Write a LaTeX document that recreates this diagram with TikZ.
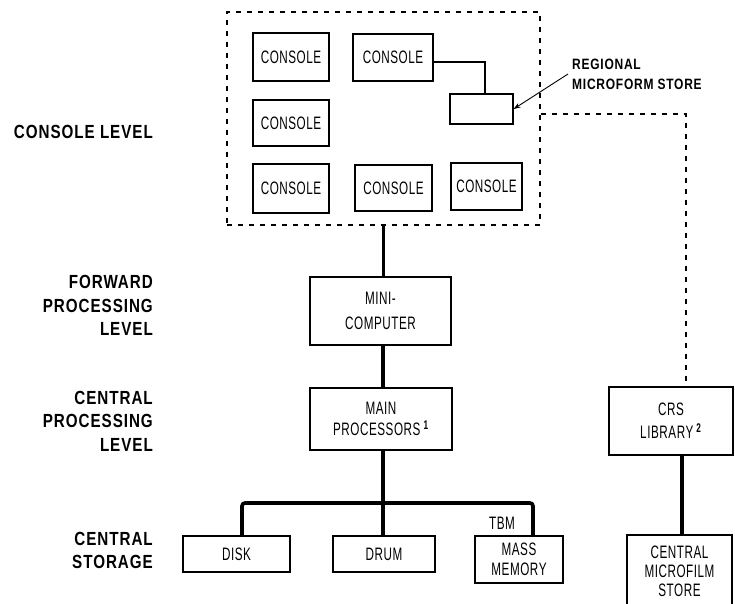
\documentclass[tikz,border=0pt]{standalone}
\usepackage{fontspec}
\setmainfont{Liberation Sans}[FakeStretch=0.65, LetterSpace=3]
\newfontfamily\lvlfont{Liberation Sans Bold}[FakeStretch=0.8, LetterSpace=5]
\usepackage{tikz}
\usetikzlibrary{arrows.meta}
\usetikzlibrary{positioning}

\tikzset{
  unit/.style={draw=black, line width=1.2pt, inner sep=0pt, align=center,
    font=\fontsize{18}{21}\selectfont},
  lvl/.style={anchor=east, align=right, inner sep=0pt,
    font=\lvlfont\fontsize{19}{23.5}\selectfont},
  bus/.style={draw=black, line width=3.6pt},
  thinlink/.style={draw=black, line width=1.3pt},
  dashlink/.style={draw=black, line width=1.4pt, dash pattern=on 5pt off 6pt}
}

\begin{document}
\begin{tikzpicture}[x=1pt, y=-1pt]
\useasboundingbox (0,0) rectangle (735,604);
\clip (0,0) rectangle (735,604);
%\tikzstyle{unit}=[draw,thick,minimum size=6mm]
\begin{scope}
    \node (lvla) [lvl] at (153,132) {CONSOLE LEVEL};
    \node (lvlb) [lvl] at (153,305.5) {FORWARD\\PROCESSING\\LEVEL};
    \node (lvlc) [lvl] at (153,421) {CENTRAL\\PROCESSING\\LEVEL};
    \node (lvld) [lvl] at (153,550.5) {CENTRAL\\STORAGE};
\end{scope}

\begin{scope}
    \node (conslvl) [dashlink, minimum width=313pt, minimum height=213pt, inner sep=0pt] at (383.5,118.5) {};
    \node (ca) [unit, minimum width=76pt, minimum height=48pt] at (291,57) {CONSOLE};
    \node (cb) [unit, minimum width=80pt, minimum height=47pt] at (393,57.5) {CONSOLE};
    \node (cc) [unit, minimum width=76pt, minimum height=46pt] at (291,123) {CONSOLE};
    \node (cd) [unit, minimum width=76pt, minimum height=49pt] at (291,188.5) {CONSOLE};
    \node (ce) [unit, minimum width=77pt, minimum height=46pt] at (393.5,188) {CONSOLE};
    \node (cf) [unit, minimum width=71pt, minimum height=47pt] at (486.5,186.5) {CONSOLE};
    \node (store) [unit, minimum width=63pt, minimum height=30pt] at (481.5,109) {};
    \node (rmslbl) [anchor=north west, align=left, inner sep=0pt,
        font=\lvlfont\fontsize{15}{20}\selectfont] at (572,59) {REGIONAL\\MICROFORM STORE};
    \node (mini) [unit, minimum width=141pt, minimum height=68pt, font=\fontsize{18}{25}\selectfont] at (380.5,311) {MINI-\\COMPUTER};
    \node (main) [unit, minimum width=142pt, minimum height=62pt] at (381,419) {MAIN\\PROCESSORS\,\textsuperscript{\textbf{1}}};
    \node (disk) [unit, minimum width=107pt, minimum height=36pt] at (236.5,554) {DISK};
    \node (drum) [unit, minimum width=102pt, minimum height=36pt] at (384,554) {DRUM};
    \node (mass) [unit, minimum width=88pt, minimum height=47pt, font=\fontsize{18}{19.5}\selectfont] at (519,559.5) {MASS\\MEMORY};
    \node (tbm) [inner sep=0pt, font=\fontsize{18}{20}\selectfont] at (502,523) {TBM};
    \node (crs) [unit, minimum width=124pt, minimum height=68pt, font=\fontsize{18}{23}\selectfont] at (671,421) {CRS\\LIBRARY\,\textsuperscript{\textbf{2}}};
    \node (cms) [unit, minimum width=105pt, minimum height=72pt, font=\fontsize{18}{19}\selectfont] at (679.5,571) {CENTRAL\\MICROFILM\\STORE};
\end{scope}

\coordinate (busl) at (242,503);
\coordinate (busr) at (533,503);
\coordinate (crsin) at (686,114);
\coordinate (rmstail) at (568,74);

\begin{scope}[>={Stealth[black, length=7pt, width=5pt]}]
    \path [bus] (conslvl.south) edge (conslvl.south |- mini.north);
    \path [bus] (mini.south -| 383,0) edge (main.north -| 383,0);
    \path [bus] (main.south -| 383,0) edge (drum.north -| 383,0);
    \draw [bus, rounded corners=3pt] (disk.north -| busl) |- (busr) -- (mass.north -| busr);
    \path [bus] (crs.south -| 682,0) edge (cms.north -| 682,0);

    \draw [thinlink] (cb.east |- 0,62) -| (store.north -| 485,0);
    \draw [thinlink, line width=0.9pt, ->] (rmstail) -- (store.east);
    \draw [dashlink] (conslvl.east |- crsin) -- (crsin) -- (crs.north -| crsin);
\end{scope}
\end{tikzpicture}
\end{document}
